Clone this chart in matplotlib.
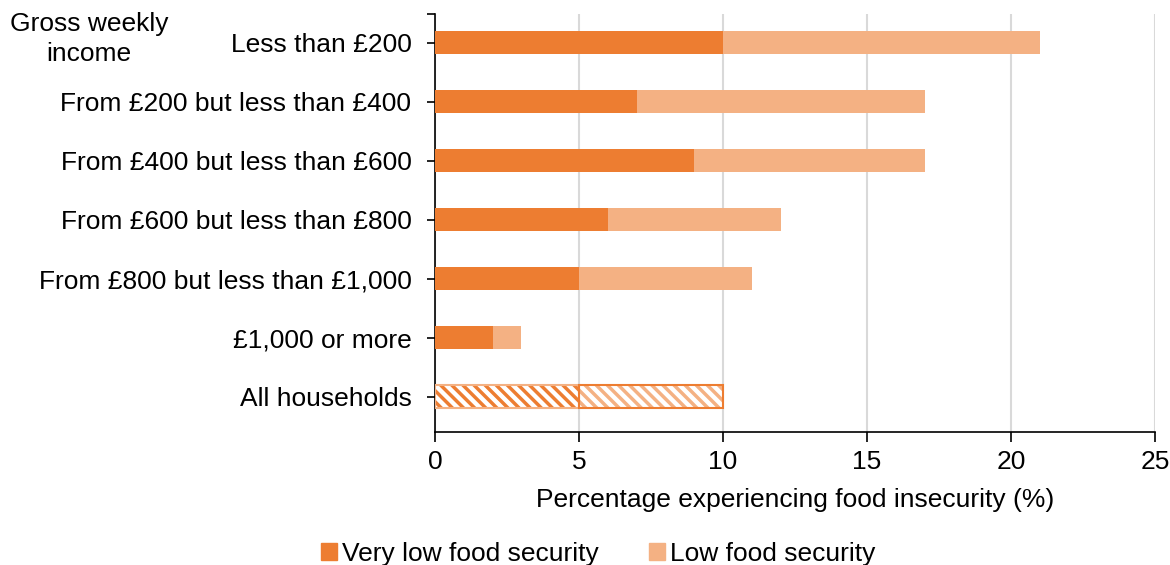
import matplotlib.pyplot as plt
import numpy as np
from matplotlib.patches import Patch

plt.rcParams['font.family'] = ['Liberation Sans', 'DejaVu Sans']

# data
categories = ['Less than £200', 'From £200 but less than £400', 'From £400 but less than £600',
              'From £600 but less than £800', 'From £800 but less than £1,000', '£1,000 or more',
              'All households']
very_low = [10, 7, 9, 6, 5, 2, 5]
low = [11, 10, 8, 6, 6, 1, 5]

dark = '#ED7D31'
light = '#F4B183'

fig = plt.figure(figsize=(11.7, 5.65), dpi=100)
ax = fig.add_axes([435 / 1170, 1 - 432 / 565, 720 / 1170, 418 / 565])

y = np.arange(len(categories))
h = 0.39
n = len(categories) - 1

ax.barh(y[:n], very_low[:n], height=h, color=dark, zorder=3)
ax.barh(y[:n], low[:n], left=very_low[:n], height=h, color=light, zorder=3)

# all households - hatched
plt.rcParams['hatch.linewidth'] = 2.5
ax.barh(y[n], very_low[n], height=h, color='white', lw=0, zorder=3)
ax.barh(y[n], very_low[n], height=h, color='none', edgecolor=dark, hatch='\\\\\\', lw=0, zorder=3)
ax.barh(y[n], very_low[n], height=h, color='none', edgecolor=light, lw=1.5, zorder=4)
ax.barh(y[n], low[n], left=very_low[n], height=h, color='white', lw=0, zorder=3)
ax.barh(y[n], low[n], left=very_low[n], height=h, color='none', edgecolor=light, hatch='\\\\\\', lw=0, zorder=3)
ax.barh(y[n], low[n], left=very_low[n], height=h, color='none', edgecolor=dark, lw=1.5, zorder=4)

ax.set_xlim(0, 25)
ax.set_ylim(6.6, -0.49)
ax.set_yticks(y)
ax.set_yticklabels(categories, fontsize=19)
ax.set_xticks([0, 5, 10, 15, 20, 25])
ax.tick_params(axis='x', labelsize=19, length=7, width=1.2, pad=6)
ax.tick_params(axis='y', length=6, width=1.2, pad=11)
ax.set_yticks([-0.49], minor=True)
ax.tick_params(axis='y', which='minor', length=6, width=1.2)
ax.grid(axis='x', color='#D9D9D9', lw=1.5, zorder=0)
for s in ['top', 'right']:
    ax.spines[s].set_visible(False)
ax.spines['left'].set_linewidth(1.2)
ax.spines['bottom'].set_linewidth(1.2)
ax.set_xlabel('Percentage experiencing food insecurity (%)', fontsize=19, labelpad=10)

fig.text(89 / 1170, 1 - 12 / 565, 'Gross weekly\nincome', fontsize=19, ha='center', va='top',
         linespacing=1.3)

handles = [Patch(color=dark, label='Very low food security'),
           Patch(color=light, label='Low food security')]
fig.legend(handles=handles, loc='center', bbox_to_anchor=(598 / 1170, 1 - 554 / 565), ncol=2,
           frameon=False, fontsize=19, handlelength=0.6, handleheight=0.6, handletextpad=0.2,
           columnspacing=1.9)

fig.savefig('out.png', dpi=100)
